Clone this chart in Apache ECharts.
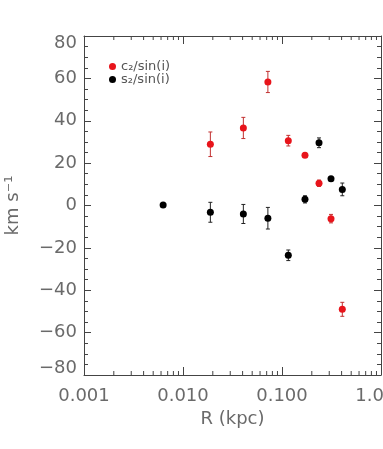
<!DOCTYPE html>
<html>
<head>
<meta charset="utf-8">
<script src="https://cdn.jsdelivr.net/npm/echarts@6/dist/echarts.min.js"></script>
<style>
  html, body { margin: 0; padding: 0; background: #fff; }
  #chart { width: 383px; height: 449px; }
</style>
</head>
<body>
<div id="chart"></div>
<script>
// radii in kpc and velocities in km/s
const c2R   = [0.0189, 0.0407, 0.072, 0.1158, 0.1707, 0.2365, 0.3126, 0.4066]
const c2Val = [28.9, 36.6, 58.3, 30.6, 23.7, 10.5, -6.2, -49.0]
const c2Err = [5.8, 5.0, 5.0, 2.5, 1.0, 1.5, 2.0, 3.3]

const s2R   = [0.0063, 0.0189, 0.0407, 0.072, 0.1158, 0.1707, 0.2365, 0.3126, 0.4066]
const s2Val = [0.2, -3.2, -4.0, -6.0, -23.5, 2.9, 29.6, 12.6, 7.6]
const s2Err = [0, 4.7, 4.5, 5.1, 2.5, 1.7, 2.3, 1.0, 3.0]

const xTickLabels = ['0.001', '0.010', '0.100', '1.000']
const minorX = [0.002, 0.003, 0.004, 0.005, 0.006, 0.007, 0.008, 0.009,
  0.02, 0.03, 0.04, 0.05, 0.06, 0.07, 0.08, 0.09,
  0.2, 0.3, 0.4, 0.5, 0.6, 0.7, 0.8, 0.9]

const axisColor = '#444'
const labelColor = '#6a6a6a'
const fontFamily = 'DejaVu Sans'

let chart = echarts.init(document.getElementById('chart'))

const points = (rs, vs) => rs.map((r, i) => [r, vs[i]])
const bars = (rs, vs, es) => rs.map((r, i) => [r, vs[i] - es[i], vs[i] + es[i]])

function errorBar (color) {
  return function (params, api) {
    let x = api.value(0)
    let lo = api.coord([x, api.value(1)])
    let hi = api.coord([x, api.value(2)])
    let style = { stroke: color, lineWidth: 1 }
    return {
      type: 'group',
      children: [
        { type: 'line', shape: { x1: lo[0], y1: lo[1], x2: hi[0], y2: hi[1] }, style: style },
        { type: 'line', shape: { x1: lo[0] - 2, y1: lo[1], x2: lo[0] + 2, y2: lo[1] }, style: style },
        { type: 'line', shape: { x1: hi[0] - 2, y1: hi[1], x2: hi[0] + 2, y2: hi[1] }, style: style }
      ]
    }
  }
}

// minor ticks of the log axis (2..9 of each decade), bottom and top
function minorTick (params, api) {
  let v = api.value(0)
  let b = api.coord([v, -80])
  let t = api.coord([v, 80])
  let style = { stroke: axisColor, lineWidth: 1 }
  return {
    type: 'group',
    children: [
      { type: 'line', shape: { x1: b[0], y1: b[1], x2: b[0], y2: b[1] - 4 }, style: style },
      { type: 'line', shape: { x1: t[0], y1: t[1], x2: t[0], y2: t[1] + 4 }, style: style }
    ]
  }
}

function yLabel (v) {
  let s = v < 0 ? '\u2212' + (-v) : String(v)
  if (v === 80) return '{top|' + s + '}'
  if (v === -80) return '{bot|' + s + '}'
  return s
}

let yRich = {
  top: { fontSize: 18, fontFamily: fontFamily, color: labelColor, padding: [14, 0, 0, 0] },
  bot: { fontSize: 18, fontFamily: fontFamily, color: labelColor, padding: [0, 0, 14, 0] }
}

let option = {
  animation: false,
  grid: { left: 84, right: 2, top: 36, bottom: 74, outerBoundsMode: 'none' },
  legend: {
    orient: 'vertical',
    left: 104,
    top: 55,
    itemWidth: 7,
    itemHeight: 7,
    itemGap: 0,
    icon: 'circle',
    data: ['c\u2082/sin(i)', 's\u2082/sin(i)'],
    textStyle: { fontSize: 13, fontFamily: fontFamily, color: '#555', lineHeight: 13 }
  },
  xAxis: [
    {
      type: 'log',
      min: 0.001,
      max: 1,
      logBase: 10,
      name: 'R (kpc)',
      nameLocation: 'middle',
      nameGap: 35,
      nameTextStyle: { fontSize: 18, fontFamily: fontFamily, color: labelColor },
      axisLine: { onZero: false, lineStyle: { color: axisColor } },
      axisTick: { inside: true, length: 8, lineStyle: { color: axisColor } },
      splitLine: { show: false },
      axisLabel: {
        margin: 12,
        fontSize: 18,
        fontFamily: fontFamily,
        color: labelColor,
        formatter: v => xTickLabels[Math.round(Math.log10(v) + 3)]
      }
    },
    {
      type: 'log',
      position: 'top',
      min: 0.001,
      max: 1,
      axisLine: { onZero: false, lineStyle: { color: axisColor } },
      axisTick: { inside: true, length: 8, lineStyle: { color: axisColor } },
      axisLabel: { show: false },
      splitLine: { show: false }
    }
  ],
  yAxis: [
    {
      type: 'value',
      min: -80,
      max: 80,
      interval: 20,
      name: 'km s\u207B\u00B9',
      nameLocation: 'middle',
      nameGap: 62,
      nameTextStyle: { fontSize: 18, fontFamily: fontFamily, color: labelColor },
      axisLine: { show: true, onZero: false, lineStyle: { color: axisColor } },
      axisTick: { show: true, inside: true, length: 7, lineStyle: { color: axisColor } },
      minorTick: { show: true, splitNumber: 4, length: 4, lineStyle: { color: axisColor } },
      splitLine: { show: false },
      axisLabel: {
        margin: 7,
        fontSize: 18,
        fontFamily: fontFamily,
        color: labelColor,
        formatter: yLabel,
        rich: yRich
      }
    },
    {
      type: 'value',
      position: 'right',
      min: -80,
      max: 80,
      interval: 20,
      axisLine: { show: true, onZero: false, lineStyle: { color: axisColor } },
      axisTick: { show: true, inside: true, length: 7, lineStyle: { color: axisColor } },
      minorTick: { show: true, splitNumber: 4, length: 4, lineStyle: { color: axisColor } },
      splitLine: { show: false },
      axisLabel: { show: false }
    }
  ],
  series: [
    {
      type: 'custom',
      renderItem: minorTick,
      data: minorX.map(v => [v, 0]),
      encode: { x: 0, y: 1 },
      clip: false,
      silent: true,
      z: 1
    },
    {
      type: 'custom',
      renderItem: errorBar('#c23030'),
      data: bars(c2R, c2Val, c2Err),
      encode: { x: 0, y: [1, 2] },
      silent: true,
      z: 2
    },
    {
      type: 'custom',
      renderItem: errorBar('#222'),
      data: bars(s2R, s2Val, s2Err),
      encode: { x: 0, y: [1, 2] },
      silent: true,
      z: 2
    },
    {
      name: 'c\u2082/sin(i)',
      type: 'scatter',
      symbolSize: 7,
      itemStyle: { color: '#e8141b', opacity: 1 },
      data: points(c2R, c2Val),
      z: 3
    },
    {
      name: 's\u2082/sin(i)',
      type: 'scatter',
      symbolSize: 7,
      itemStyle: { color: '#000', opacity: 1 },
      data: points(s2R, s2Val),
      z: 3
    }
  ]
}

chart.setOption(option)
</script>
</body>
</html>
